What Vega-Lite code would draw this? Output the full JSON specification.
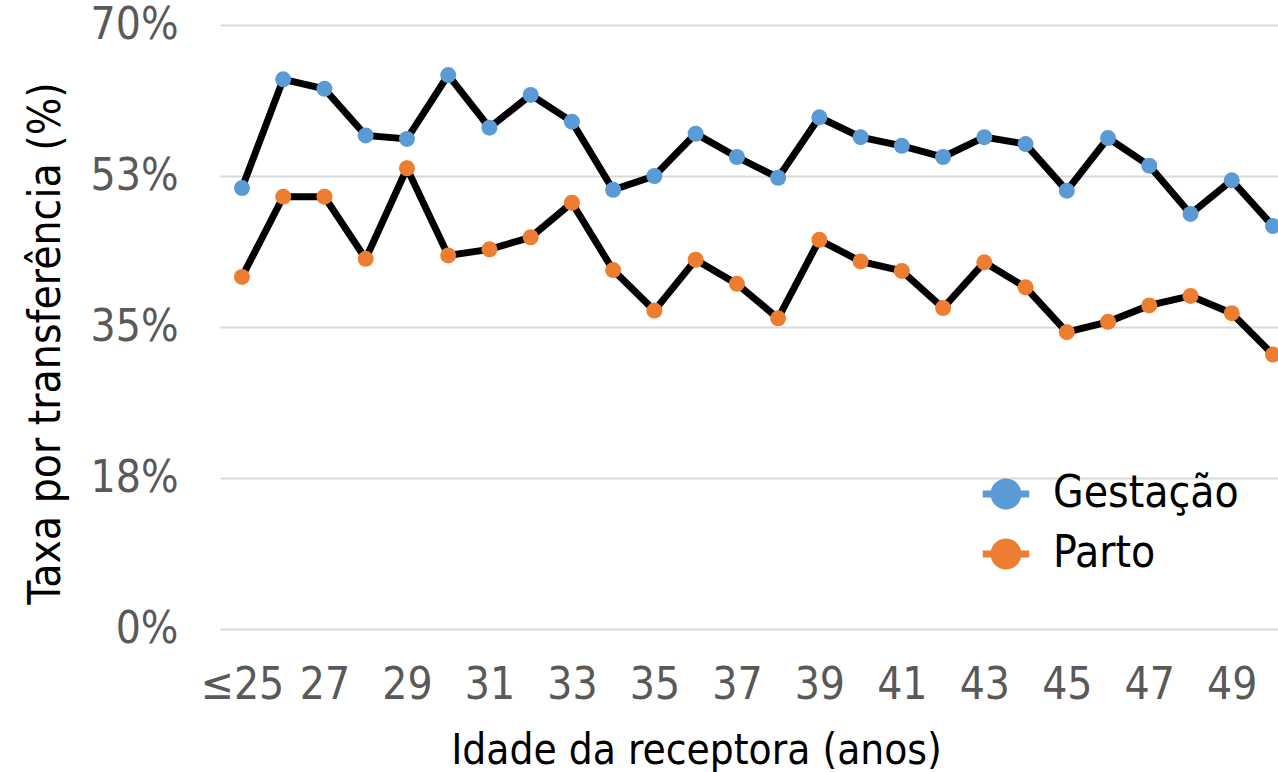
{
  "$schema": "https://vega.github.io/schema/vega-lite/v6.json",
  "autosize": {"type": "none"},
  "padding": {"left": 220, "top": 25, "right": 0, "bottom": 143},
  "width": 1058,
  "height": 604,
  "background": "white",
  "config": {
    "view": {"stroke": null},
    "font": "DejaVu Sans Condensed"
  },
  "data": {
    "values": [
      {"idade": "≤25", "serie": "Gestação", "taxa": 51.1},
      {"idade": "26", "serie": "Gestação", "taxa": 63.7},
      {"idade": "27", "serie": "Gestação", "taxa": 62.6},
      {"idade": "28", "serie": "Gestação", "taxa": 57.2},
      {"idade": "29", "serie": "Gestação", "taxa": 56.8},
      {"idade": "30", "serie": "Gestação", "taxa": 64.2},
      {"idade": "31", "serie": "Gestação", "taxa": 58.1},
      {"idade": "32", "serie": "Gestação", "taxa": 61.9},
      {"idade": "33", "serie": "Gestação", "taxa": 58.8},
      {"idade": "34", "serie": "Gestação", "taxa": 50.9},
      {"idade": "35", "serie": "Gestação", "taxa": 52.5},
      {"idade": "36", "serie": "Gestação", "taxa": 57.4},
      {"idade": "37", "serie": "Gestação", "taxa": 54.7},
      {"idade": "38", "serie": "Gestação", "taxa": 52.3},
      {"idade": "39", "serie": "Gestação", "taxa": 59.3},
      {"idade": "40", "serie": "Gestação", "taxa": 57.0},
      {"idade": "41", "serie": "Gestação", "taxa": 56.0},
      {"idade": "42", "serie": "Gestação", "taxa": 54.7},
      {"idade": "43", "serie": "Gestação", "taxa": 57.0},
      {"idade": "44", "serie": "Gestação", "taxa": 56.2},
      {"idade": "45", "serie": "Gestação", "taxa": 50.8},
      {"idade": "46", "serie": "Gestação", "taxa": 56.9},
      {"idade": "47", "serie": "Gestação", "taxa": 53.7},
      {"idade": "48", "serie": "Gestação", "taxa": 48.1},
      {"idade": "49", "serie": "Gestação", "taxa": 52.0},
      {"idade": "50", "serie": "Gestação", "taxa": 46.7},
      {"idade": "≤25", "serie": "Parto", "taxa": 40.8},
      {"idade": "26", "serie": "Parto", "taxa": 50.1},
      {"idade": "27", "serie": "Parto", "taxa": 50.1},
      {"idade": "28", "serie": "Parto", "taxa": 42.9},
      {"idade": "29", "serie": "Parto", "taxa": 53.4},
      {"idade": "30", "serie": "Parto", "taxa": 43.3},
      {"idade": "31", "serie": "Parto", "taxa": 44.0},
      {"idade": "32", "serie": "Parto", "taxa": 45.4},
      {"idade": "33", "serie": "Parto", "taxa": 49.4},
      {"idade": "34", "serie": "Parto", "taxa": 41.6},
      {"idade": "35", "serie": "Parto", "taxa": 36.9},
      {"idade": "36", "serie": "Parto", "taxa": 42.8},
      {"idade": "37", "serie": "Parto", "taxa": 40.0},
      {"idade": "38", "serie": "Parto", "taxa": 36.0},
      {"idade": "39", "serie": "Parto", "taxa": 45.1},
      {"idade": "40", "serie": "Parto", "taxa": 42.6},
      {"idade": "41", "serie": "Parto", "taxa": 41.5},
      {"idade": "42", "serie": "Parto", "taxa": 37.2},
      {"idade": "43", "serie": "Parto", "taxa": 42.5},
      {"idade": "44", "serie": "Parto", "taxa": 39.6},
      {"idade": "45", "serie": "Parto", "taxa": 34.4},
      {"idade": "46", "serie": "Parto", "taxa": 35.6},
      {"idade": "47", "serie": "Parto", "taxa": 37.5},
      {"idade": "48", "serie": "Parto", "taxa": 38.6},
      {"idade": "49", "serie": "Parto", "taxa": 36.6},
      {"idade": "50", "serie": "Parto", "taxa": 31.8}
    ]
  },
  "encoding": {
    "x": {
      "field": "idade",
      "type": "ordinal",
      "sort": null,
      "scale": {"type": "point", "padding": 0.327, "align": 0.815},
      "axis": {
        "title": "Idade da receptora (anos)",
        "values": ["≤25", "27", "29", "31", "33", "35", "37", "39", "41", "43", "45", "47", "49"],
        "domain": false,
        "ticks": false,
        "grid": false,
        "labelAngle": 0,
        "labelFontSize": 44,
        "labelColor": "#595959",
        "labelPadding": 34,
        "labelFont": "DejaVu Sans Condensed",
        "titleFont": "DejaVu Sans Condensed",
        "titleFontSize": 42,
        "titleFontWeight": "normal",
        "titleColor": "#000000",
        "titleX": 476,
        "titleY": 134,
        "titleBaseline": "alphabetic",
        "titleAnchor": null
      }
    },
    "y": {
      "field": "taxa",
      "type": "quantitative",
      "scale": {"domain": [0, 70], "nice": false},
      "axis": {
        "title": "Taxa por transferência (%)",
        "values": [0, 17.5, 35, 52.5, 70],
        "labelExpr": "datum.value == 17.5 ? '18%' : datum.value == 52.5 ? '53%' : datum.value + '%'",
        "domain": false,
        "ticks": false,
        "grid": true,
        "gridColor": "#d9d9d9",
        "gridWidth": 2,
        "labelFontSize": 44,
        "labelColor": "#595959",
        "labelPadding": 42,
        "labelFont": "DejaVu Sans Condensed",
        "titleFont": "DejaVu Sans Condensed",
        "titleFontSize": 44,
        "titleFontWeight": "normal",
        "titleColor": "#000000",
        "titleAngle": -90,
        "titleX": -174,
        "titleY": 318,
        "titleAlign": "center",
        "titleBaseline": "middle",
        "titleAnchor": null
      }
    }
  },
  "layer": [
    {
      "mark": {"type": "line", "color": "#000000", "strokeWidth": 7, "strokeJoin": "miter"},
      "encoding": {"detail": {"field": "serie"}}
    },
    {
      "mark": {"type": "point", "filled": true, "opacity": 1, "size": 256, "shape": "circle"},
      "encoding": {
        "color": {
          "field": "serie",
          "type": "nominal",
          "scale": {"domain": ["Gestação", "Parto"], "range": ["#5B9BD5", "#ED7D31"]},
          "legend": {
            "title": null,
            "orient": "none",
            "legendX": 764,
            "legendY": 447,
            "symbolType": "M -1.5 -0.23 H 1.5 V 0.23 H -1.5 Z M 0 -1 C 0.552 -1 1 -0.552 1 0 C 1 0.552 0.552 1 0 1 C -0.552 1 -1 0.552 -1 0 C -1 -0.552 -0.552 -1 0 -1 Z",
            "symbolSize": 960,
            "symbolStrokeWidth": 0,
            "symbolOpacity": 1,
            "labelFontSize": 44,
            "labelFont": "DejaVu Sans Condensed",
            "labelColor": "#000000",
            "labelOffset": 25,
            "labelLimit": 0,
            "rowPadding": 16
          }
        }
      }
    }
  ]
}
